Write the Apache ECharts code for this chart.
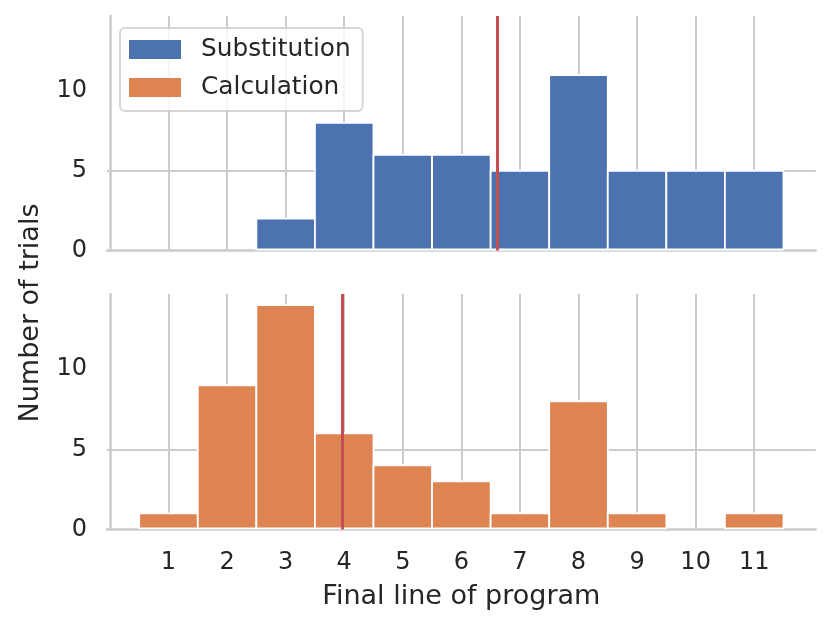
<!DOCTYPE html>
<html>
<head>
    <meta charset="utf-8">
    <title>Final line of program</title>
    <script src="https://cdn.jsdelivr.net/npm/echarts@6/dist/echarts.min.js"></script>
    <style>
        html, body { margin: 0; padding: 0; background: #fff; }
        #chart1 { width: 831px; height: 627px; }
    </style>
</head>
<body>
<div id="chart1"></div>
<script>
    // histogram bins (final line of program) and trial counts
    var lines = [1, 2, 3, 4, 5, 6, 7, 8, 9, 10, 11];
    var substitution = [0, 0, 2, 8, 6, 6, 5, 11, 5, 5, 5];
    var calculation = [1, 9, 14, 6, 4, 3, 1, 8, 1, 0, 1];
    // red vertical markers
    var substitutionMark = 6.61;
    var calculationMark = 3.96;
    // tick labels
    var xTicks = [1, 2, 3, 4, 5, 6, 7, 8, 9, 10, 11];
    var yTicks = [0, 5, 10];

    var grey = '#cccccc';
    var ink = '#262626';
    var font = 'DejaVu Sans';

    function pairs(values) {
        return lines.map(function (x, i) { return [x, values[i]]; });
    }

    // one bar per bin, from x-0.5 to x+0.5
    function histItem(params, api) {
        var x = api.value(0), n = api.value(1);
        if (!n) return null;
        var p0 = api.coord([x - 0.5, n]);
        var p1 = api.coord([x + 0.5, 0]);
        return {
            type: 'rect',
            shape: { x: p0[0], y: p0[1], width: p1[0] - p0[0], height: p1[1] - p0[1] - 1 },
            style: { fill: api.visual('color'), stroke: '#fff', lineWidth: 1.8 }
        };
    }

    function xAxisFor(idx, withLabels) {
        var ax = {
            type: 'value',
            gridIndex: idx,
            min: -0.05,
            max: 12.05,
            axisLine: { show: true, onZero: false, lineStyle: { color: grey, width: 2.5 } },
            axisTick: { show: false, customValues: xTicks },
            axisLabel: { show: withLabels, customValues: xTicks, fontSize: 24, color: ink, fontFamily: font, margin: 21 },
            splitLine: { show: true, lineStyle: { color: grey, width: 2 } }
        };
        if (withLabels) {
            ax.name = 'Final line of program';
            ax.nameLocation = 'middle';
            ax.nameGap = 54;
            ax.nameTextStyle = { fontSize: 27, color: ink, fontFamily: font };
        }
        return ax;
    }

    function yAxisFor(idx) {
        return {
            type: 'value',
            gridIndex: idx,
            min: 0,
            max: 14.7,
            axisLine: { show: true, lineStyle: { color: grey, width: 2.5 } },
            axisTick: { show: false, customValues: yTicks },
            axisLabel: { customValues: yTicks, fontSize: 24, color: ink, fontFamily: font, margin: 20 },
            splitLine: { show: true, showMinLine: false, showMaxLine: false, lineStyle: { color: grey, width: 2 } }
        };
    }

    function markFor(x) {
        return {
            silent: true,
            symbol: 'none',
            z: 10,
            label: { show: false },
            emphasis: { disabled: true },
            lineStyle: { color: '#C44E52', width: 3, type: 'solid' },
            data: [{ xAxis: x }]
        };
    }

    var myChart1 = echarts.init(document.getElementById('chart1'));

    myChart1.setOption({
        animation: false,
        textStyle: { fontFamily: font },
        grid: [
            { left: 107, right: 15.3, top: 16, bottom: 376.5 },
            { left: 107, right: 15.3, top: 294, bottom: 97.7 }
        ],
        xAxis: [xAxisFor(0, false), xAxisFor(1, true)],
        yAxis: [yAxisFor(0), yAxisFor(1)],
        legend: {
            orient: 'vertical',
            left: 120,
            top: 28,
            z: 20,
            data: ['Substitution', 'Calculation'],
            icon: 'rect',
            itemWidth: 52,
            itemHeight: 19,
            itemGap: 13,
            padding: [9, 12, 11, 9],
            borderColor: 'rgba(204,204,204,0.8)',
            borderWidth: 2,
            borderRadius: 5,
            backgroundColor: 'rgba(255,255,255,0.8)',
            selectedMode: false,
            textStyle: { fontSize: 24.8, color: ink, fontFamily: font, padding: [0, 0, 0, 15] }
        },
        graphic: [{
            type: 'text',
            x: 31,
            y: 313,
            rotation: Math.PI / 2,
            style: {
                text: 'Number of trials',
                font: '27px "DejaVu Sans"',
                fill: ink,
                align: 'center',
                verticalAlign: 'middle'
            }
        }],
        series: [{
            name: 'Substitution',
            type: 'custom',
            xAxisIndex: 0,
            yAxisIndex: 0,
            itemStyle: { color: '#4C72B0' },
            encode: { x: 0, y: 1 },
            renderItem: histItem,
            data: pairs(substitution),
            markLine: markFor(substitutionMark)
        }, {
            name: 'Calculation',
            type: 'custom',
            xAxisIndex: 1,
            yAxisIndex: 1,
            itemStyle: { color: '#DD8452' },
            encode: { x: 0, y: 1 },
            renderItem: histItem,
            data: pairs(calculation),
            markLine: markFor(calculationMark)
        }]
    });
</script>
</body>
</html>
